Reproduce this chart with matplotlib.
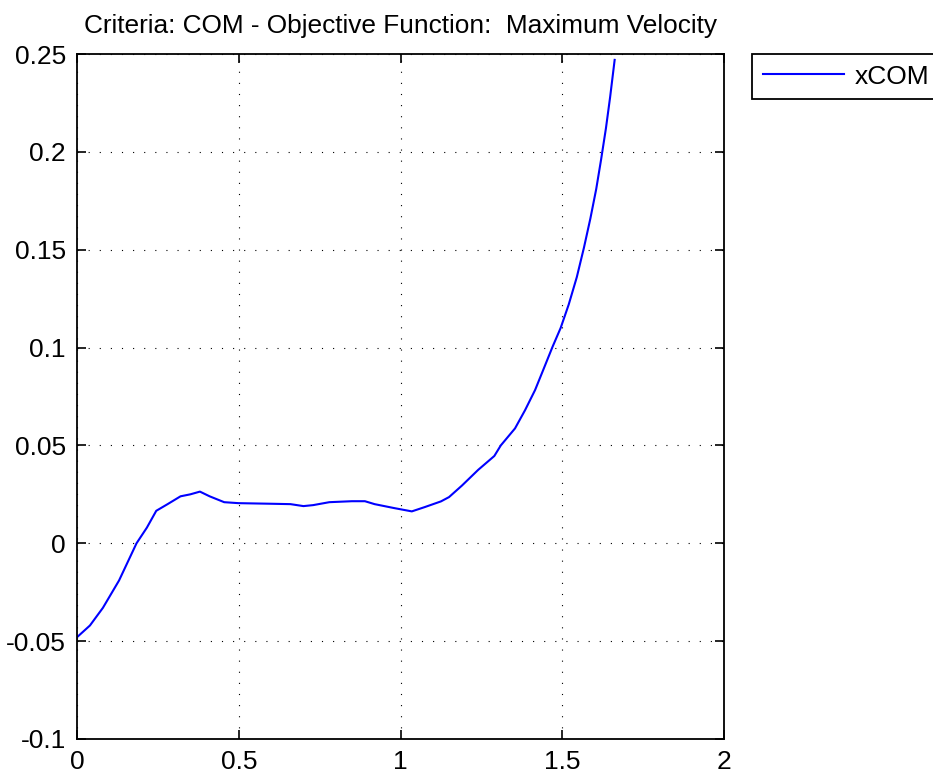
import matplotlib
matplotlib.use("Agg")
import matplotlib.pyplot as plt
from matplotlib.ticker import FixedLocator, FixedFormatter

plt.rcParams['font.family'] = ['Liberation Sans', 'DejaVu Sans']

# Horizontal centre-of-mass trajectory
t = [0.0, 0.04, 0.08, 0.13, 0.184, 0.216, 0.245, 0.28, 0.32, 0.35, 0.38, 0.41,
     0.455, 0.5, 0.6, 0.66, 0.70, 0.73, 0.78, 0.85, 0.89, 0.92, 0.98, 1.035,
     1.075, 1.125, 1.15, 1.19, 1.24, 1.29, 1.31, 1.354, 1.385, 1.416, 1.441,
     1.47, 1.495, 1.52, 1.545, 1.567, 1.587, 1.605, 1.62, 1.635, 1.648, 1.662]
x_com = [-0.048, -0.042, -0.033, -0.019, 0.0, 0.008, 0.0166, 0.020, 0.024,
         0.025, 0.0264, 0.024, 0.021, 0.0205, 0.0202, 0.020, 0.019, 0.0195,
         0.021, 0.0215, 0.0215, 0.020, 0.018, 0.0163, 0.0185, 0.0214, 0.0236,
         0.0295, 0.0375, 0.0446, 0.05, 0.0587, 0.068, 0.0783, 0.0885, 0.1004,
         0.11, 0.122, 0.136, 0.151, 0.166, 0.181, 0.196, 0.212, 0.228, 0.247]

x_ticks = [0, 0.5, 1, 1.5, 2]
x_labels = ["0", "0.5", "1", "1.5", "2"]
y_ticks = [-0.1, -0.05, 0, 0.05, 0.1, 0.15, 0.2, 0.25]
y_labels = ["-0.1", "-0.05", "0", "0.05", "0.1", "0.15", "0.2", "0.25"]

title = "Criteria: COM - Objective Function:  Maximum Velocity"
series_name = "xCOM"

W, H = 933, 776
fig = plt.figure(figsize=(W / 100, H / 100), dpi=100)
ax = fig.add_axes([77 / W, 1 - 739 / H, (724 - 77) / W, (739 - 54) / H])

ax.plot(t, x_com, color="#0000ff", lw=1.5, label=series_name)

ax.set_xlim(0, 2)
ax.set_ylim(-0.1, 0.25)
ax.xaxis.set_major_locator(FixedLocator(x_ticks))
ax.xaxis.set_major_formatter(FixedFormatter(x_labels))
ax.yaxis.set_major_locator(FixedLocator(y_ticks))
ax.yaxis.set_major_formatter(FixedFormatter(y_labels))

ax.grid(True, color="black", linestyle=(0, (1, 9)), linewidth=0.8)
ax.tick_params(direction="in", length=6.5, width=1.2, top=True, right=True,
               labelsize=19, colors="black")
ax.tick_params(axis="y", pad=8)
ax.tick_params(axis="x", pad=8)
for s in ax.spines.values():
    s.set_linewidth(1.3)
    s.set_color("black")

ax.set_title(title, fontsize=18.9, pad=15)

leg = fig.legend(loc="upper left", bbox_to_anchor=(752 / W, 1 - 54 / H),
                 bbox_transform=fig.transFigure, borderaxespad=0,
                 fontsize=19, handlelength=3.1, handletextpad=0.4,
                 borderpad=0.4, fancybox=False, framealpha=1, edgecolor="black")
leg.get_frame().set_linewidth(1.3)

fig.savefig("out.png", dpi=100)
